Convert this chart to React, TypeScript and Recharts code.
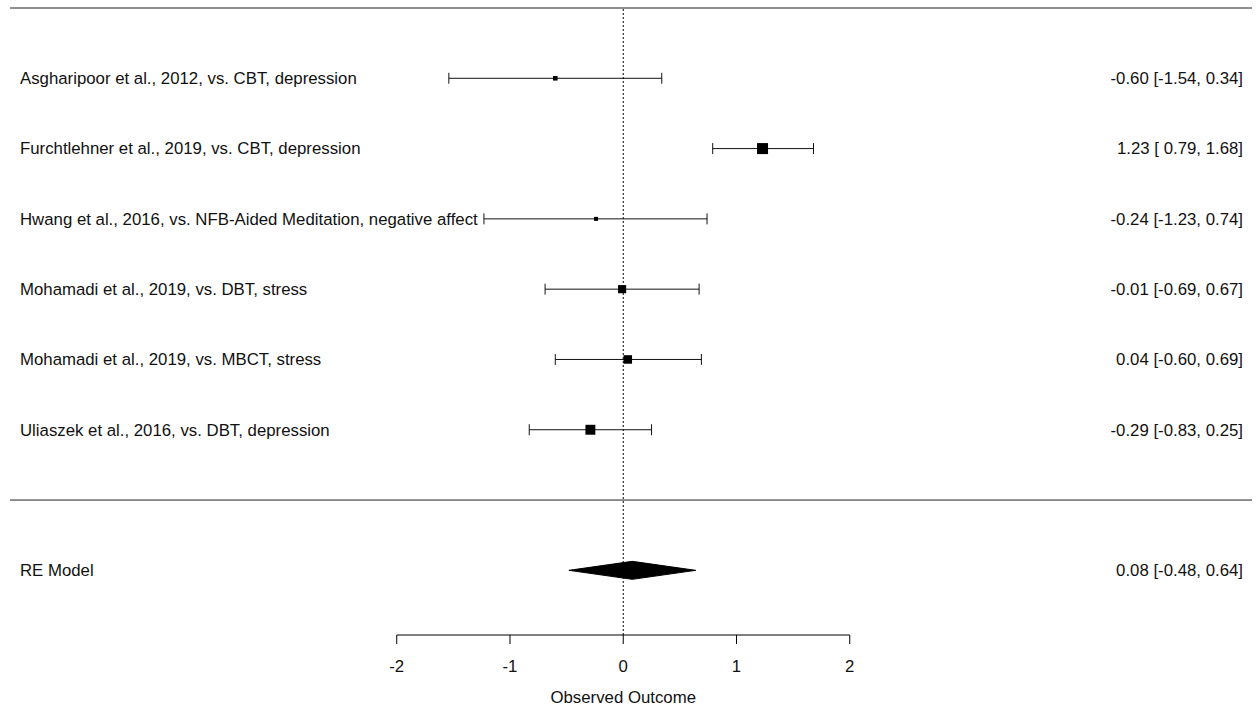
import {
  ComposedChart, Scatter, Area, XAxis, YAxis, ZAxis,
  ErrorBar, ReferenceLine,
} from 'recharts'

// study-level effects (top to bottom)
const STUDIES = [
  'Asgharipoor et al., 2012, vs. CBT, depression',
  'Furchtlehner et al., 2019, vs. CBT, depression',
  'Hwang et al., 2016, vs. NFB-Aided Meditation, negative affect',
  'Mohamadi et al., 2019, vs. DBT, stress',
  'Mohamadi et al., 2019, vs. MBCT, stress',
  'Uliaszek et al., 2016, vs. DBT, depression',
]
const ESTIMATES = [-0.60, 1.23, -0.24, -0.01, 0.04, -0.29]
const CI_LOWER = [-1.54, 0.79, -1.23, -0.69, -0.60, -0.83]
const CI_UPPER = [0.34, 1.68, 0.74, 0.67, 0.69, 0.25]
const WEIGHTS = [14.4, 19.1, 14.0, 17.0, 17.3, 18.3]

// pooled random-effects estimate
const RE_LABEL = 'RE Model'
const RE_ESTIMATE = 0.08
const RE_LOWER = -0.48
const RE_UPPER = 0.64

const X_TICKS = [-2, -1, 0, 1, 2]
const X_LABEL = 'Observed Outcome'

const FONT = '"Liberation Sans", Arial, sans-serif'
const FONT_SIZE = 16.8
const XLIM: [number, number] = [-5.415, 5.552]
const YLIM: [number, number] = [-1.92, STUDIES.length + 1]
const DIAMOND_HALF = 0.128

const k = STUDIES.length

const fmt = (v: number) => v.toFixed(2)
const fmtLow = (v: number) => (v < 0 ? '' : ' ') + v.toFixed(2)
const annotate = (est: number, lo: number, hi: number) => `${fmt(est)} [${fmtLow(lo)}, ${fmt(hi)}]`

const studyPoints = STUDIES.map((_, i) => ({
  x: ESTIMATES[i],
  y: k - i,
  w: WEIGHTS[i],
  err: [ESTIMATES[i] - CI_LOWER[i], CI_UPPER[i] - ESTIMATES[i]],
}))

const leftLabels = [
  ...STUDIES.map((name, i) => ({ x: XLIM[0], y: k - i, text: name })),
  { x: XLIM[0], y: -1, text: RE_LABEL },
]

const rightLabels = [
  ...STUDIES.map((_, i) => ({ x: XLIM[1], y: k - i, text: annotate(ESTIMATES[i], CI_LOWER[i], CI_UPPER[i]) })),
  { x: XLIM[1], y: -1, text: annotate(RE_ESTIMATE, RE_LOWER, RE_UPPER) },
]

const diamond = [
  { x: RE_LOWER, band: [-1, -1] },
  { x: RE_ESTIMATE, band: [-1 - DIAMOND_HALF, -1 + DIAMOND_HALF] },
  { x: RE_UPPER, band: [-1, -1] },
]

function Square(props: any) {
  const s = props.size
  return <rect x={props.cx - s / 2} y={props.cy - s / 2} width={s} height={s} fill="#000" />
}

function LeftText(props: any) {
  return (
    <text x={props.cx + 10} y={props.cy} dy="0.35em" fontSize={FONT_SIZE} fontFamily={FONT}
      fill="#111" style={{ whiteSpace: 'pre' }}>
      {props.payload.text}
    </text>
  )
}

function RightText(props: any) {
  return (
    <text x={props.cx - 9} y={props.cy} dy="0.35em" textAnchor="end" fontSize={FONT_SIZE} fontFamily={FONT}
      fill="#111" style={{ whiteSpace: 'pre' }}>
      {props.payload.text}
    </text>
  )
}

export default function App() {
  return (
    <div style={{ width: 1256, height: 709, background: '#fff' }}>
      <style>{'body{margin:0}'}</style>
      <ComposedChart width={1256} height={709} margin={{ top: 8, right: 4, bottom: 14, left: 10 }}>
        <XAxis
          type="number"
          dataKey="x"
          domain={XLIM}
          ticks={X_TICKS}
          interval={0}
          allowDataOverflow
          axisLine={false}
          tickLine={{ stroke: '#000' }}
          tickSize={9}
          tickMargin={16}
          height={60}
          tick={{ fill: '#111', fontSize: FONT_SIZE, fontFamily: FONT }}
        />
        <YAxis type="number" dataKey="y" domain={YLIM} allowDataOverflow hide />
        <ZAxis type="number" dataKey="w" domain={[Math.min(...WEIGHTS), Math.max(...WEIGHTS)]} range={[4, 11]} />

        <ReferenceLine y={k + 1} stroke="#222" />
        <ReferenceLine y={0} stroke="#222" />
        <ReferenceLine x={0} stroke="#000" strokeDasharray="2 2" />
        <ReferenceLine
          segment={[{ x: X_TICKS[0], y: YLIM[0] }, { x: X_TICKS[X_TICKS.length - 1], y: YLIM[0] }]}
          stroke="#000"
          ifOverflow="visible"
          label={{ value: X_LABEL, position: 'bottom', offset: 56, fill: '#111', fontSize: FONT_SIZE, fontFamily: FONT }}
        />

        <Area
          data={diamond}
          dataKey="band"
          type="linear"
          fill="#000"
          fillOpacity={1}
          stroke="#000"
          isAnimationActive={false}
        />
        <Scatter data={studyPoints} shape={Square} isAnimationActive={false}>
          <ErrorBar dataKey="err" direction="x" width={5.5} stroke="#111" strokeWidth={1} />
        </Scatter>
        <Scatter data={leftLabels} shape={LeftText} isAnimationActive={false} />
        <Scatter data={rightLabels} shape={RightText} isAnimationActive={false} />
      </ComposedChart>
    </div>
  )
}
